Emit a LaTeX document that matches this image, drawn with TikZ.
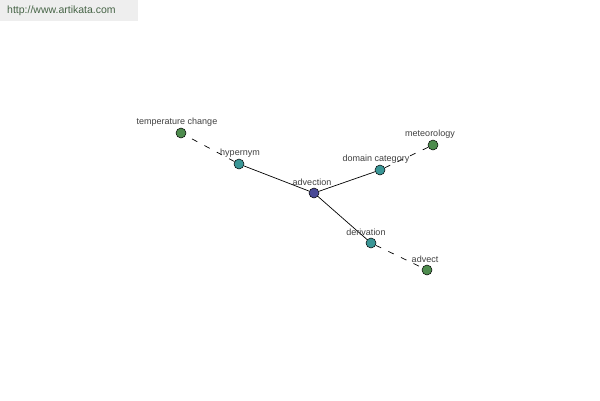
\documentclass[tikz,border=0pt]{standalone}
\usepackage{fontspec}
\setmainfont{Liberation Sans}
\usepackage{xcolor}
\definecolor{rootcol}{RGB}{72,72,150}
\definecolor{relcol}{RGB}{58,150,150}
\definecolor{leafcol}{RGB}{78,140,78}
\definecolor{markbg}{RGB}{238,238,238}
\definecolor{marktxt}{RGB}{70,100,70}
\tikzset{
  wnode/.style={circle,draw=black,line width=.5pt,minimum size=10pt,inner sep=0pt},
  wlabel/.style={font=\fontsize{9}{10}\selectfont,text=black!75,inner sep=0pt}
}
\begin{document}
\begin{tikzpicture}[x=1pt,y=-1pt]
  \useasboundingbox[fill=white] (0,0) rectangle (600,400);
  \fill[markbg] (0,0) rectangle (138,21);
  \node[anchor=west,font=\fontsize{10.5}{11}\selectfont,text=marktxt,inner sep=0pt] (mark) at (7,11) {http://www.artikata.com};
  \node[wnode,fill=rootcol] (adv) at (314,193) {};
  \node[wnode,fill=relcol] (hyp) at (239,164) {};
  \node[wnode,fill=relcol] (dom) at (380,170) {};
  \node[wnode,fill=relcol] (der) at (371,243) {};
  \node[wnode,fill=leafcol] (temp) at (181,133) {};
  \node[wnode,fill=leafcol] (met) at (433,145) {};
  \node[wnode,fill=leafcol] (advt) at (427,270) {};
  \draw[line width=.7pt] (adv) -- (hyp);
  \draw[line width=.7pt] (adv) -- (dom);
  \draw[line width=.7pt] (adv) -- (der);
  \draw[line width=.7pt,dash pattern=on 6pt off 8pt] (hyp) -- (temp);
  \draw[line width=.7pt,dash pattern=on 6pt off 8pt] (dom) -- (met);
  \draw[line width=.7pt,dash pattern=on 6pt off 8pt] (der) -- (advt);
  \node[wlabel] at (312,182) {advection};
  \node[wlabel] at (240,153) {hypernym};
  \node[wlabel] at (376,159) {domain category};
  \node[wlabel] at (366,232) {derivation};
  \node[wlabel] at (177,122) {temperature change};
  \node[wlabel] at (430,134) {meteorology};
  \node[wlabel] at (425,259) {advect};
\end{tikzpicture}
\end{document}
